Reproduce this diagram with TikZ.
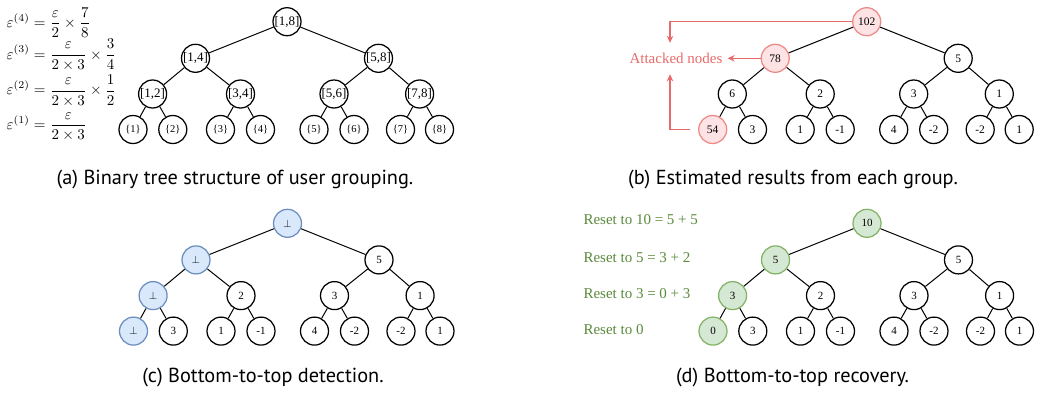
\documentclass[tikz,border=0pt]{standalone}
\usepackage{amsmath}
\usepackage{graphicx}
\usepackage{fontspec}
\usetikzlibrary{arrows.meta}
\newfontfamily\nodefont{Liberation Serif}
\newfontfamily\capfont{PT Sans}
\definecolor{redfill}{HTML}{FDE3E3}
\definecolor{redline}{HTML}{EB8A88}
\definecolor{redtext}{HTML}{E86A6A}
\definecolor{bluefill}{HTML}{DAE8FC}
\definecolor{blueline}{HTML}{6C8EBF}
\definecolor{greenfill}{HTML}{D5E8D4}
\definecolor{greenline}{HTML}{82B366}
\definecolor{greentext}{HTML}{5A8A3C}
\def\TX{{0,-91.5,91.5,-134.4,-46.5,47,132.6,-154,-114.2,-66.5,-26.5,27,67,113.5,152.5}}
\def\TY{{0,36.6,36.6,72.3,72.3,72.3,72.3,107.8,107.8,107.8,107.8,107.8,107.8,107.8,107.8}}
\begin{document}
\begin{tikzpicture}[x=1pt,y=-1pt,
  tn/.style={circle,draw=black,line width=1.25pt,minimum size=28pt,inner sep=0pt,font=\nodefont\fontsize{11.5}{12}\selectfont},
  ainner/.style={tn,font=\nodefont\fontsize{13}{14}\selectfont},
  aleaf/.style={tn,font=\nodefont\fontsize{10.5}{12}\selectfont},
  cdnode/.style={tn,font=\nodefont\fontsize{11}{12}\selectfont},
  attnode/.style={tn,fill=redfill,draw=redline},
  detnode/.style={cdnode,fill=bluefill,draw=blueline},
  recnode/.style={cdnode,fill=greenfill,draw=greenline},
  treeedge/.style={draw=black,line width=1pt},
  redarrow/.style={draw=redtext,line width=1.1pt,-{Stealth[length=7pt,width=6.5pt]}},
  captext/.style={font=\capfont\fontsize{20.3}{24}\selectfont,inner sep=0pt},
  eqnode/.style={anchor=west,inner sep=0pt},
  resettext/.style={anchor=west,inner sep=0pt,text=greentext,font=\nodefont\fontsize{15}{17}\selectfont},
]
\useasboundingbox (0,0) rectangle (1042,397);

% ---------- (a) ----------
\node[eqnode] (e4) at (6.5,22.7) {\scalebox{1.5}{$\displaystyle \varepsilon^{(4)}=\frac{\varepsilon}{2}\times\frac{7}{8}$}};
\node[eqnode] (e3) at (6.5,55) {\scalebox{1.5}{$\displaystyle \varepsilon^{(3)}=\frac{\varepsilon}{2\times 3}\times\frac{3}{4}$}};
\node[eqnode] (e2) at (6.5,90.7) {\scalebox{1.5}{$\displaystyle \varepsilon^{(2)}=\frac{\varepsilon}{2\times 3}\times\frac{1}{2}$}};
\node[eqnode] (e1) at (6.5,126.7) {\scalebox{1.5}{$\displaystyle \varepsilon^{(1)}=\frac{\varepsilon}{2\times 3}$}};

\begin{scope}[shift={(287,21.7)}]
\foreach \i/\t/\s in {1/{[1,8]}/ainner,2/{[1,4]}/ainner,3/{[5,8]}/ainner,4/{[1,2]}/ainner,5/{[3,4]}/ainner,6/{[5,6]}/ainner,7/{[7,8]}/ainner,
  8/{\{1\}}/aleaf,9/{\{2\}}/aleaf,10/{\{3\}}/aleaf,11/{\{4\}}/aleaf,12/{\{5\}}/aleaf,13/{\{6\}}/aleaf,14/{\{7\}}/aleaf,15/{\{8\}}/aleaf}{
  \pgfmathsetmacro\xx{\TX[\i-1]}\pgfmathsetmacro\yy{\TY[\i-1]}
  \node[\s] (a\i) at (\xx,\yy) {\t};}
\foreach \i in {1,...,7}{\pgfmathtruncatemacro\l{2*\i}\pgfmathtruncatemacro\r{2*\i+1}
  \draw[treeedge] (a\i) -- (a\l); \draw[treeedge] (a\i) -- (a\r);}
\end{scope}

% ---------- (b) ----------
\begin{scope}[shift={(866.7,21.7)}]
\foreach \i/\t/\s in {1/102/attnode,2/78/attnode,3/5/tn,4/6/tn,5/2/tn,6/3/tn,7/1/tn,
  8/54/attnode,9/3/tn,10/1/tn,11/-1/tn,12/4/tn,13/-2/tn,14/-2/tn,15/1/tn}{
  \pgfmathsetmacro\xx{\TX[\i-1]}\pgfmathsetmacro\yy{\TY[\i-1]}
  \node[\s] (b\i) at (\xx,\yy) {\t};}
\foreach \i in {1,...,7}{\pgfmathtruncatemacro\l{2*\i}\pgfmathtruncatemacro\r{2*\i+1}
  \draw[treeedge] (b\i) -- (b\l); \draw[treeedge] (b\i) -- (b\r);}
\end{scope}
\node[inner sep=0pt,text=redtext,font=\nodefont\fontsize{15}{17}\selectfont] (attl) at (676,58.3) {Attacked nodes};
\draw[redarrow] (b2.west) -- ([xshift=5pt]attl.east);
\draw[redarrow] (b1.west) -| ([xshift=-6pt,yshift=10pt]attl.north);
\draw[redarrow] ([xshift=-8pt]b8.west) -| ([xshift=-6pt,yshift=-10.5pt]attl.south);

% ---------- (c) ----------
\begin{scope}[shift={(287.5,223.3)}]
\foreach \i/\t/\s in {1/{$\perp$}/detnode,2/{$\perp$}/detnode,3/5/cdnode,4/{$\perp$}/detnode,5/2/cdnode,6/3/cdnode,7/1/cdnode,
  8/{$\perp$}/detnode,9/3/cdnode,10/1/cdnode,11/-1/cdnode,12/4/cdnode,13/-2/cdnode,14/-2/cdnode,15/1/cdnode}{
  \pgfmathsetmacro\xx{\TX[\i-1]}\pgfmathsetmacro\yy{\TY[\i-1]}
  \node[\s] (c\i) at (\xx,\yy) {\t};}
\foreach \i in {1,...,7}{\pgfmathtruncatemacro\l{2*\i}\pgfmathtruncatemacro\r{2*\i+1}
  \draw[treeedge] (c\i) -- (c\l); \draw[treeedge] (c\i) -- (c\r);}
\end{scope}

% ---------- (d) ----------
\begin{scope}[shift={(867,223.3)}]
\foreach \i/\t/\s in {1/10/recnode,2/5/recnode,3/5/cdnode,4/3/recnode,5/2/cdnode,6/3/cdnode,7/1/cdnode,
  8/0/recnode,9/3/cdnode,10/1/cdnode,11/-1/cdnode,12/4/cdnode,13/-2/cdnode,14/-2/cdnode,15/1/cdnode}{
  \pgfmathsetmacro\xx{\TX[\i-1]}\pgfmathsetmacro\yy{\TY[\i-1]}
  \node[\s] (d\i) at (\xx,\yy) {\t};}
\foreach \i in {1,...,7}{\pgfmathtruncatemacro\l{2*\i}\pgfmathtruncatemacro\r{2*\i+1}
  \draw[treeedge] (d\i) -- (d\l); \draw[treeedge] (d\i) -- (d\r);}
\end{scope}
\node[resettext] (r4) at (583.3,220) {Reset to 10 = 5 + 5};
\node[resettext] (r3) at (583.3,257.3) {Reset to 5 = 3 + 2};
\node[resettext] (r2) at (583.3,294) {Reset to 3 = 0 + 3};
\node[resettext] (r1) at (583.3,330) {Reset to 0};

% ---------- captions ----------
\node[captext] (capa) at (235,180) {(a) Binary tree structure of user grouping.};
\node[captext] (capb) at (793,180) {(b) Estimated results from each group.};
\node[captext] (capc) at (263,377) {(c) Bottom-to-top detection.};
\node[captext] (capd) at (792.5,377) {(d) Bottom-to-top recovery.};
\end{tikzpicture}
\end{document}
